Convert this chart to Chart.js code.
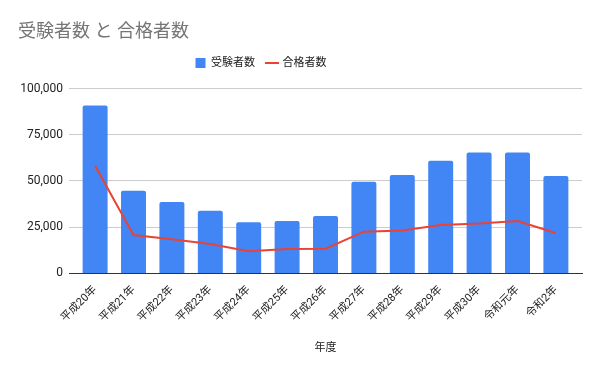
<!DOCTYPE html>
<html>
<head>
<meta charset="utf-8">
<script src="https://cdn.jsdelivr.net/npm/chart.js@4"></script>
<style>
  html, body { margin: 0; padding: 0; background: #fff; }
  #wrap { width: 600px; height: 371px; }
</style>
</head>
<body>
<div id="wrap"><canvas id="chart" width="600" height="371"></canvas></div>
<script>
// data
const years = ['平成20年', '平成21年', '平成22年', '平成23年', '平成24年', '平成25年', '平成26年',
  '平成27年', '平成28年', '平成29年', '平成30年', '令和元年', '令和2年'];
const examinees = [90900, 44700, 38600, 33900, 27700, 28300, 31100, 49600, 53300, 60900, 65400, 65400, 52700];
const passers = [58300, 20800, 18500, 15900, 12000, 13200, 13400, 22600, 23200, 26200, 27000, 28300, 21900];
const yTicks = [0, 25000, 50000, 75000, 100000];

const font = "Roboto, 'Noto Sans CJK JP', sans-serif";
Chart.defaults.font.family = font;
Chart.defaults.color = '#222';

// extra gap under the legend, and shift it left like the original
const legendTweak = {
  id: 'legendTweak',
  beforeInit(chart) {
    const fit = chart.legend.fit;
    chart.legend.fit = function () {
      fit.call(this);
      this.height += 10;
    };
  },
  afterLayout(chart) {
    const lg = chart.legend;
    lg.right = 2 * 261 - lg.left;
  }
};

const ctx = document.getElementById('chart').getContext('2d');
new Chart(ctx, {
  type: 'bar',
  data: {
    labels: years,
    datasets: [
      {
        type: 'bar',
        label: '受験者数',
        data: examinees,
        backgroundColor: '#4285f4',
        borderRadius: 2,
        barPercentage: 0.65,
        categoryPercentage: 1,
        pointStyle: 'rect',
        order: 2
      },
      {
        type: 'line',
        label: '合格者数',
        data: passers,
        borderColor: '#ea4335',
        backgroundColor: '#ea4335',
        borderWidth: 2,
        pointRadius: 0,
        pointStyle: 'line',
        tension: 0,
        order: 1
      }
    ]
  },
  plugins: [legendTweak],
  options: {
    responsive: false,
    animation: false,
    layout: { padding: { left: 18, right: 18, top: 12, bottom: 16 } },
    plugins: {
      title: {
        display: true,
        text: '受験者数 と 合格者数',
        align: 'start',
        color: '#757575',
        font: { size: 18, weight: 'normal', family: font },
        padding: { top: 10, bottom: 2 }
      },
      legend: {
        position: 'top',
        labels: {
          usePointStyle: true,
          boxWidth: 10,
          boxHeight: 10,
          padding: 12,
          color: '#222',
          font: { size: 11 },
          sort: (a, b) => a.datasetIndex - b.datasetIndex
        }
      },
      tooltip: { enabled: false }
    },
    scales: {
      x: {
        // small extra margin at both ends of the category axis
        afterBuildTicks: scale => {
          scale._startValue -= 0.18;
          scale._valueRange += 0.36;
        },
        grid: { display: false },
        border: { color: '#333', width: 1 },
        ticks: {
          minRotation: 45,
          maxRotation: 45,
          font: { size: 11 },
          color: '#222',
          padding: 2
        },
        title: {
          display: true,
          text: '年度',
          font: { size: 11 },
          color: '#222',
          padding: { top: 15, bottom: 0 }
        }
      },
      y: {
        min: 0,
        max: 100000,
        afterBuildTicks: scale => { scale.ticks = yTicks.map(v => ({ value: v })); },
        afterFit: scale => { scale.width = 51; },
        grid: { color: '#cccccc', drawTicks: false },
        border: { display: false },
        ticks: {
          font: { size: 12 },
          color: '#222',
          padding: 6,
          callback: v => v.toLocaleString('en-US')
        }
      }
    }
  }
});
</script>
</body>
</html>
